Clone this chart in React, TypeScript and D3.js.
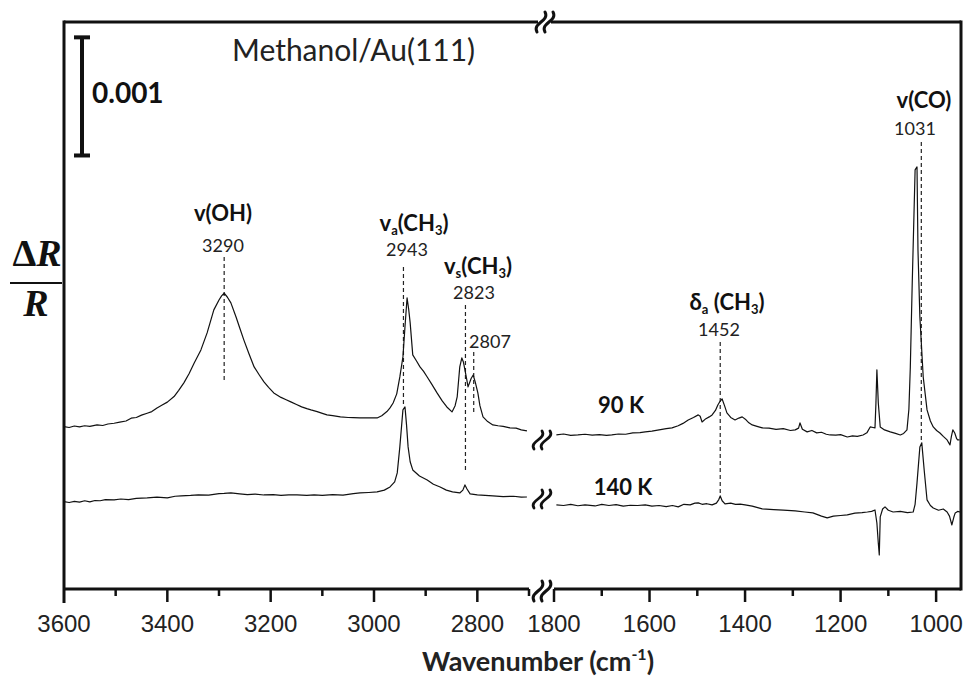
import React, { useEffect, useRef } from 'react';
import * as d3 from 'd3';

// [wavenumber (cm-1), ΔR/R in 1e-4, relative to the trace's own baseline]
const k90High: [number, number][] = [
  [3600, 0.03], [3590, -0.05], [3580, 0.08], [3570, 0.0], [3560, 0.1], [3550, 0.05], [3536, 0.17], [3525, 0.12],
  [3515, 0.25], [3503, 0.31], [3492, 0.4], [3480, 0.5], [3470, 0.74], [3460, 0.8], [3450, 1.0], [3439, 1.16],
  [3430, 1.3], [3420, 1.61], [3410, 1.85], [3400, 2.1], [3387, 2.57], [3378, 3.1], [3368, 3.73], [3358, 4.5],
  [3348, 5.42], [3335, 6.52], [3323, 7.96], [3310, 9.91], [3300, 10.75], [3295, 11.1], [3290, 11.32], [3284, 11.0],
  [3277, 10.5], [3267, 9.31], [3260, 8.4], [3252, 7.37], [3242, 6.2], [3232, 5.08], [3222, 4.4], [3213, 3.81],
  [3204, 3.35], [3194, 2.88], [3180, 2.5], [3170, 2.3], [3161, 2.12], [3150, 1.9], [3140, 1.7], [3130, 1.55],
  [3122, 1.44], [3110, 1.3], [3100, 1.15], [3091, 1.02], [3080, 0.95], [3065, 0.85], [3050, 0.8], [3040, 0.78],
  [3027, 0.76], [3010, 0.76], [2994, 0.76], [2985, 0.95], [2975, 1.3], [2969, 1.61], [2963, 2.03], [2956, 2.8],
  [2950, 4.23], [2944, 5.93], [2940, 8.5], [2936, 10.92], [2933, 10.0], [2930, 8.81], [2925, 6.1], [2918, 5.6],
  [2911, 5.08], [2904, 4.7], [2897, 4.23], [2888, 3.6], [2878, 2.88], [2868, 2.2], [2859, 1.69], [2849, 1.27],
  [2843, 1.8], [2839, 2.54], [2834, 5.08], [2830, 5.84], [2827, 5.5], [2824, 4.83], [2820, 3.9], [2818, 3.39],
  [2812, 4.1], [2808, 4.4], [2804, 3.8], [2799, 2.88], [2795, 1.8], [2789, 0.85], [2780, 0.45], [2770, 0.17],
  [2760, 0.1], [2750, 0.05], [2737, -0.08], [2725, -0.1], [2715, -0.25], [2704, -0.34],
];

const k140High: [number, number][] = [
  [3600, 0.03], [3590, -0.05], [3580, 0.05], [3570, -0.02], [3560, 0.1], [3550, 0.0], [3540, 0.12], [3530, 0.1],
  [3520, 0.2], [3503, 0.17], [3490, 0.25], [3475, 0.2], [3460, 0.3], [3439, 0.34], [3420, 0.4], [3400, 0.35],
  [3385, 0.48], [3373, 0.51], [3355, 0.55], [3340, 0.6], [3320, 0.58], [3300, 0.7], [3290, 0.72], [3277, 0.76],
  [3260, 0.68], [3245, 0.62], [3230, 0.66], [3213, 0.59], [3195, 0.62], [3180, 0.55], [3165, 0.6], [3149, 0.59],
  [3130, 0.55], [3116, 0.59], [3100, 0.55], [3080, 0.62], [3060, 0.58], [3040, 0.7], [3027, 0.76], [3010, 0.8],
  [2994, 0.85], [2980, 1.0], [2969, 1.27], [2960, 1.7], [2955, 2.46], [2950, 4.66], [2944, 7.79], [2940, 8.04],
  [2937, 6.5], [2934, 4.66], [2930, 3.4], [2925, 2.71], [2912, 2.2], [2897, 1.86], [2885, 1.5], [2872, 1.27],
  [2860, 1.0], [2848, 0.85], [2834, 0.76], [2828, 1.0], [2824, 1.44], [2820, 1.1], [2814, 0.68], [2800, 0.6],
  [2785, 0.55], [2770, 0.51], [2750, 0.45], [2730, 0.48], [2715, 0.4], [2704, 0.42],
];

const k90Low: [number, number][] = [
  [1795, -0.68], [1780, -0.6], [1765, -0.72], [1750, -0.68], [1735, -0.62], [1720, -0.7], [1705, -0.65], [1690, -0.72],
  [1679, -0.68], [1665, -0.6], [1650, -0.62], [1635, -0.5], [1620, -0.48], [1609, -0.42], [1595, -0.35], [1580, -0.25],
  [1565, -0.15], [1553, -0.08], [1540, 0.1], [1530, 0.3], [1519, 0.59], [1508, 0.8], [1498, 1.02], [1494, 0.9],
  [1490, 0.42], [1482, 0.7], [1475, 0.85], [1469, 1.02], [1462, 1.4], [1457, 1.86], [1452, 2.2], [1448, 2.37],
  [1443, 1.8], [1438, 1.19], [1430, 0.8], [1421, 0.59], [1413, 0.75], [1406, 0.85], [1398, 0.6], [1392, 0.35],
  [1385, 0.17], [1375, 0.05], [1364, -0.08], [1350, -0.1], [1335, -0.2], [1320, -0.15], [1305, -0.3], [1295, -0.25],
  [1288, -0.1], [1285, 0.34], [1280, -0.2], [1270, -0.42], [1260, -0.3], [1250, -0.5], [1240, -0.45], [1230, -0.62],
  [1222, -0.68], [1210, -0.7], [1200, -0.65], [1186, -0.85], [1175, -0.75], [1165, -0.8], [1153, -0.68], [1145, -0.5],
  [1138, 0.0], [1132, -0.05], [1128, -0.08], [1126, 2.0], [1124, 4.83], [1121, 2.0], [1117, 0.0], [1108, -0.25],
  [1096, -0.42], [1085, -0.55], [1075, -0.68], [1068, -0.55], [1061, -0.25], [1057, 1.5], [1054, 5.08], [1050, 12.19],
  [1044, 21.76], [1040, 22.01], [1038, 14.99], [1034, 9.31], [1027, 4.23], [1019, 1.44], [1012, 0.5], [1006, 0.0],
  [999, -0.3], [992, -0.51], [985, -0.8], [977, -1.1], [971, -1.52], [968, -0.8], [965, -0.25], [961, -0.51],
  [957, -1.0], [955, -1.1], [951, -1.1],
];

const k140Low: [number, number][] = [
  [1795, -0.25], [1780, -0.3], [1765, -0.2], [1750, -0.32], [1735, -0.25], [1714, -0.34], [1700, -0.2], [1685, -0.3],
  [1670, -0.22], [1655, -0.35], [1640, -0.28], [1625, -0.3], [1609, -0.25], [1595, -0.35], [1580, -0.3], [1565, -0.4],
  [1552, -0.3], [1540, -0.42], [1528, -0.2], [1515, -0.25], [1505, -0.1], [1498, -0.08], [1490, -0.2], [1480, -0.15],
  [1469, -0.25], [1460, -0.1], [1455, 0.2], [1452, 0.51], [1448, 0.1], [1442, -0.17], [1430, -0.1], [1420, -0.2],
  [1410, -0.18], [1400, -0.25], [1385, -0.35], [1364, -0.59], [1340, -0.65], [1320, -0.7], [1295, -0.76], [1275, -0.85],
  [1258, -0.93], [1240, -1.2], [1228, -1.35], [1215, -1.2], [1200, -1.15], [1186, -1.1], [1170, -0.95], [1155, -0.9],
  [1144, -0.85], [1135, -0.8], [1128, -0.68], [1124, -1.78], [1121, -3.5], [1119, -4.49], [1117, -1.27], [1112, -0.6],
  [1107, -0.42], [1100, -0.7], [1090, -0.85], [1075, -0.8], [1060, -0.9], [1048, -0.85], [1044, -0.2], [1040, 1.61],
  [1034, 4.66], [1030, 5.0], [1025, 2.71], [1019, 0.17], [1012, -0.3], [1006, -0.51], [995, -0.7], [985, -0.6],
  [977, -0.85], [972, -1.2], [967, -1.95], [963, -1.3], [960, -0.93], [955, -0.8], [950, -0.85],
];

const traceNames = ['90 K', '140 K'];
const traceOffsets = [13.72, 7.37]; // 1e-4 units

const highTicks = [3600, 3400, 3200, 3000, 2800];
const highMinor = [3500, 3300, 3100, 2900, 2700];
const lowTicks = [1800, 1600, 1400, 1200, 1000];
const lowMinor = [1700, 1500, 1300, 1100];

// peak assignments: wavenumber, mode label parts, dashed line top / bottom (1e-4 units)
type Part = { t: string; sub?: boolean };
const peaks: { wn: number; name: Part[] | null; top: number; bottom: number }[] = [
  { wn: 3290, name: [{ t: 'v(OH)' }], top: 28.11, bottom: 17.44 },
  { wn: 2943, name: [{ t: 'v' }, { t: 'a', sub: true }, { t: '(CH' }, { t: '3', sub: true }, { t: ')' }], top: 27.26, bottom: 15.58 },
  { wn: 2823, name: [{ t: 'v' }, { t: 's', sub: true }, { t: '(CH' }, { t: '3', sub: true }, { t: ')' }], top: 24.05, bottom: 10.08 },
  { wn: 2807, name: null, top: 20.07, bottom: 14.9 },
  { wn: 1452, name: [{ t: 'δ' }, { t: 'a', sub: true }, { t: ' (CH' }, { t: '3', sub: true }, { t: ')' }], top: 20.91, bottom: 7.96 },
  { wn: 1031, name: [{ t: 'v(CO)' }], top: 37.85, bottom: 12.36 },
];

// label placement (pixels)
const peakText: Record<number, { nx: number; ny: number; vx: number; vy: number }> = {
  3290: { nx: 223, ny: 221, vx: 223, vy: 252 },
  2943: { nx: 414, ny: 231, vx: 407, vy: 256 },
  2823: { nx: 478, ny: 274, vx: 474, vy: 299 },
  2807: { nx: 0, ny: 0, vx: 490, vy: 348 },
  1452: { nx: 727, ny: 310, vx: 719, vy: 336 },
  1031: { nx: 924, ny: 108, vx: 915, vy: 135 },
};

const SANS = 'Lato, "Open Sans", sans-serif';
const ARIAL = '"Liberation Sans", Arial, sans-serif';

const App = () => {
  const svgRef = useRef<SVGSVGElement>(null);

  useEffect(() => {
    const svg = d3.select(svgRef.current);
    svg.selectAll('*').remove();

    const left = 64, right = 961, top = 22, bottom = 589;
    const xHigh = d3.scaleLinear().domain([3600, 2700]).range([left, 529]);
    const xLow = d3.scaleLinear().domain([1800, 950]).range([554, 960]);
    const y = d3.scaleLinear().domain([0, 48]).range([bottom, top]);
    const xOf = (wn: number) => (wn > 2000 ? xHigh(wn) : xLow(wn));

    const ink = '#111';

    // break symbol: two slanted S strokes
    const breakMark = (cx: number, cy: number, h: number, sw: number) => {
      [-4, 4].forEach(dx => {
        const x = cx + dx;
        svg.append('path')
          .attr('d', `M${x - 4},${cy + h / 2} C${x - 9},${cy + 1} ${x + 9},${cy - 1} ${x + 4},${cy - h / 2}`)
          .attr('fill', 'none')
          .attr('stroke', ink)
          .attr('stroke-width', sw)
          .attr('stroke-linecap', 'round');
      });
    };

    // frame
    const frame = svg.append('g').attr('stroke', ink).attr('stroke-width', 3).attr('fill', 'none');
    frame.append('line').attr('x1', left).attr('x2', left).attr('y1', top - 1.5).attr('y2', bottom + 14);
    frame.append('line').attr('x1', right).attr('x2', right).attr('y1', top - 1.5).attr('y2', bottom + 1.5);
    frame.append('line').attr('x1', left).attr('x2', 538).attr('y1', top).attr('y2', top);
    frame.append('line').attr('x1', 551).attr('x2', right).attr('y1', top).attr('y2', top);
    frame.append('line').attr('x1', left).attr('x2', xHigh(2700)).attr('y1', bottom).attr('y2', bottom);
    frame.append('line').attr('x1', xLow(1800)).attr('x2', right).attr('y1', bottom).attr('y2', bottom);
    breakMark(545, top, 20, 3);
    breakMark(542, bottom + 2, 20, 3);

    // ticks
    const tickG = svg.append('g').attr('stroke', ink).attr('stroke-width', 2.5);
    const addTicks = (vals: number[], sc: d3.ScaleLinear<number, number>, len: number) => {
      tickG.selectAll(null).data(vals).enter().append('line')
        .attr('x1', d => sc(d)).attr('x2', d => sc(d))
        .attr('y1', bottom).attr('y2', bottom + len);
    };
    addTicks(highTicks.filter(d => d !== 3600), xHigh, 13);
    addTicks(lowTicks, xLow, 13);
    addTicks(highMinor, xHigh, 7);
    addTicks(lowMinor, xLow, 7);

    const labG = svg.append('g')
      .attr('font-family', ARIAL).attr('font-size', 24).attr('fill', '#222').attr('text-anchor', 'middle');
    labG.selectAll(null).data(highTicks).enter().append('text')
      .attr('x', d => xHigh(d)).attr('y', 632).text(d => d);
    labG.selectAll(null).data(lowTicks).enter().append('text')
      .attr('x', d => xLow(d)).attr('y', 632).text(d => d);

    // axis title
    const xt = svg.append('text')
      .attr('x', 538).attr('y', 671).attr('text-anchor', 'middle')
      .attr('font-family', SANS).attr('font-weight', 700).attr('font-size', 27).attr('fill', '#222');
    xt.append('tspan').text('Wavenumber (cm');
    xt.append('tspan').attr('font-size', 16).attr('dy', -11).text('-1');
    xt.append('tspan').attr('dy', 11).text(')');

    // ΔR/R
    const yl = svg.append('g').attr('font-family', '"Liberation Serif", "Times New Roman", serif')
      .attr('font-weight', 700).attr('font-size', 38).attr('fill', ink).attr('text-anchor', 'middle');
    const dr = yl.append('text').attr('x', 37).attr('y', 266);
    dr.append('tspan').text('Δ');
    dr.append('tspan').attr('font-style', 'italic').text('R');
    yl.append('text').attr('x', 36).attr('y', 316).attr('font-style', 'italic').text('R');
    svg.append('line').attr('x1', 10).attr('x2', 62).attr('y1', 283).attr('y2', 283)
      .attr('stroke', ink).attr('stroke-width', 2);

    // scale bar 0.001 = 10 x 1e-4
    const sbTop = y(46.7), sbBot = y(36.7);
    const sb = svg.append('g').attr('stroke', ink).attr('stroke-width', 4);
    sb.append('line').attr('x1', 82).attr('x2', 82).attr('y1', sbTop).attr('y2', sbBot);
    sb.append('line').attr('x1', 74).attr('x2', 90).attr('y1', sbTop).attr('y2', sbTop);
    sb.append('line').attr('x1', 74).attr('x2', 90).attr('y1', sbBot).attr('y2', sbBot);
    svg.append('text').attr('x', 92).attr('y', 103)
      .attr('font-family', SANS).attr('font-weight', 700).attr('font-size', 28).attr('fill', '#111')
      .text('0.001');

    svg.append('text').attr('x', 232).attr('y', 61)
      .attr('font-family', SANS).attr('font-size', 30).attr('fill', '#222')
      .text('Methanol/Au(111)');

    // dashed assignment lines
    svg.append('g').selectAll(null).data(peaks).enter().append('line')
      .attr('x1', d => xOf(d.wn)).attr('x2', d => xOf(d.wn))
      .attr('y1', d => y(d.top)).attr('y2', d => y(d.bottom))
      .attr('stroke', '#222').attr('stroke-width', 1.2).attr('stroke-dasharray', '4,3');

    // spectra
    const segments = [[k90High, k90Low], [k140High, k140Low]];
    segments.forEach(([hi, lo], i) => {
      const off = traceOffsets[i];
      const lineHi = d3.line<[number, number]>().x(d => xHigh(d[0])).y(d => y(d[1] + off));
      const lineLo = d3.line<[number, number]>().x(d => xLow(d[0])).y(d => y(d[1] + off));
      [lineHi(hi), lineLo(lo)].forEach(p => {
        svg.append('path').attr('d', p as string).attr('fill', 'none')
          .attr('stroke', ink).attr('stroke-width', 1.2).attr('stroke-linejoin', 'round');
      });
    });
    breakMark(542, 440, 18, 2.8);
    breakMark(542, 499, 18, 2.8);

    // trace labels
    svg.append('g').selectAll(null).data(traceNames).enter().append('text')
      .attr('x', (d, i) => (i === 0 ? 621 : 623)).attr('y', (d, i) => (i === 0 ? 413 : 495))
      .attr('text-anchor', 'middle').attr('font-family', SANS).attr('font-weight', 700)
      .attr('font-size', 22).attr('fill', '#111').text(d => d);

    // peak labels
    peaks.forEach(p => {
      const pt = peakText[p.wn];
      if (p.name) {
        const t = svg.append('text').attr('x', pt.nx).attr('y', pt.ny).attr('text-anchor', 'middle')
          .attr('font-family', SANS).attr('font-weight', 700).attr('font-size', 22).attr('fill', '#111');
        let shifted = false;
        p.name.forEach(part => {
          const ts = t.append('tspan').text(part.t);
          if (part.sub && !shifted) { ts.attr('font-size', 13).attr('dy', 4); shifted = true; }
          else if (!part.sub && shifted) { ts.attr('dy', -4); shifted = false; }
          else if (part.sub) ts.attr('font-size', 13);
        });
      }
      svg.append('text').attr('x', pt.vx).attr('y', pt.vy).attr('text-anchor', 'middle')
        .attr('font-family', SANS).attr('font-size', 18).attr('fill', '#222').text(p.wn);
    });
  }, []);

  return (
    <svg ref={svgRef} width={967} height={677}
      style={{ position: 'absolute', left: 0, top: 0, background: '#fff' }} />
  );
};

export default App;
